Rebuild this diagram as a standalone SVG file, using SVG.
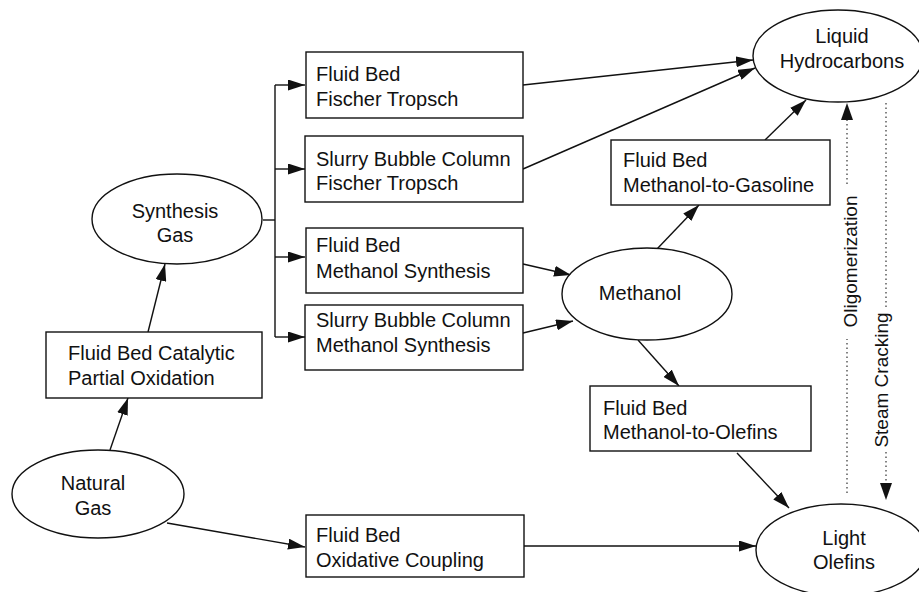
<svg xmlns="http://www.w3.org/2000/svg" width="919" height="592" viewBox="0 0 919 592">
<style>
.box{fill:#fff;stroke:#111;stroke-width:1.4}
.t{font-family:"Liberation Sans",Arial,sans-serif;font-size:20px;fill:#111}
.c{text-anchor:middle}
.r{font-family:"Liberation Sans",Arial,sans-serif;font-size:19px;fill:#111;text-anchor:middle}
.ln{fill:none;stroke:#111;stroke-width:1.4}
.dot{fill:none;stroke:#333;stroke-width:1.2;stroke-dasharray:1.5 3}
</style>
<defs>
<marker id="ah" markerUnits="userSpaceOnUse" markerWidth="18" markerHeight="11" refX="17" refY="5.5" orient="auto">
<path d="M0,0 L17,5.5 L0,11 z" fill="#111"/>
</marker>
</defs>
<rect width="919" height="592" fill="#fff"/>

<g id="connectors">
<line class="ln" x1="110" y1="450" x2="128" y2="398" marker-end="url(#ah)"/>
<line class="ln" x1="148" y1="332" x2="165" y2="264" marker-end="url(#ah)"/>
<line class="ln" x1="263" y1="220" x2="275" y2="220"/>
<line class="ln" x1="275" y1="85" x2="275" y2="337"/>
<line class="ln" x1="275" y1="85" x2="305" y2="85" marker-end="url(#ah)"/>
<line class="ln" x1="275" y1="169" x2="305" y2="169" marker-end="url(#ah)"/>
<line class="ln" x1="275" y1="257" x2="305" y2="257" marker-end="url(#ah)"/>
<line class="ln" x1="275" y1="337" x2="305" y2="337" marker-end="url(#ah)"/>
<line class="ln" x1="523" y1="85" x2="753" y2="60" marker-end="url(#ah)"/>
<line class="ln" x1="523" y1="169" x2="755" y2="68" marker-end="url(#ah)"/>
<line class="ln" x1="523" y1="264" x2="571" y2="275" marker-end="url(#ah)"/>
<line class="ln" x1="523" y1="333" x2="573" y2="321" marker-end="url(#ah)"/>
<line class="ln" x1="657" y1="249" x2="699" y2="205" marker-end="url(#ah)"/>
<line class="ln" x1="765" y1="140" x2="806" y2="100" marker-end="url(#ah)"/>
<line class="ln" x1="638" y1="340" x2="679" y2="386" marker-end="url(#ah)"/>
<line class="ln" x1="737" y1="453" x2="789" y2="508" marker-end="url(#ah)"/>
<line class="ln" x1="167" y1="523" x2="305" y2="547" marker-end="url(#ah)"/>
<line class="ln" x1="524" y1="546" x2="756" y2="546" marker-end="url(#ah)"/>
<line class="dot" x1="847" y1="493" x2="847" y2="339"/>
<line class="dot" x1="847" y1="184" x2="847" y2="118"/>
<path d="M841,120 L847,103 L853,120 z" fill="#111"/>
<line class="dot" x1="886" y1="103" x2="886" y2="308"/>
<line class="dot" x1="886" y1="452" x2="886" y2="484"/>
<path d="M880,483 L886,500 L892,483 z" fill="#111"/>
</g>

<g id="natural-gas">
<ellipse class="box" cx="98" cy="494" rx="86" ry="44"/>
<text class="t c" x="93" y="490">Natural</text>
<text class="t c" x="93" y="515">Gas</text>
</g>

<g id="partial-oxidation">
<rect class="box" x="46" y="332" width="216" height="66"/>
<text class="t" x="68" y="360">Fluid Bed Catalytic</text>
<text class="t" x="68" y="385">Partial Oxidation</text>
</g>

<g id="synthesis-gas">
<ellipse class="box" cx="177" cy="219" rx="85" ry="45"/>
<text class="t c" x="175" y="218">Synthesis</text>
<text class="t c" x="175" y="242">Gas</text>
</g>

<g id="fb-fischer-tropsch">
<rect class="box" x="306" y="52" width="217" height="66"/>
<text class="t" x="316" y="81">Fluid Bed</text>
<text class="t" x="316" y="106">Fischer Tropsch</text>
</g>

<g id="sbc-fischer-tropsch">
<rect class="box" x="305" y="136" width="218" height="66"/>
<text class="t" x="316" y="166">Slurry Bubble Column</text>
<text class="t" x="316" y="190">Fischer Tropsch</text>
</g>

<g id="fb-methanol-synthesis">
<rect class="box" x="306" y="228" width="217" height="65"/>
<text class="t" x="316" y="252">Fluid Bed</text>
<text class="t" x="316" y="278">Methanol Synthesis</text>
</g>

<g id="sbc-methanol-synthesis">
<rect class="box" x="305" y="305" width="218" height="65"/>
<text class="t" x="316" y="327">Slurry Bubble Column</text>
<text class="t" x="316" y="352">Methanol Synthesis</text>
</g>

<g id="oxidative-coupling">
<rect class="box" x="306" y="515" width="218" height="62"/>
<text class="t" x="316" y="542">Fluid Bed</text>
<text class="t" x="316" y="567">Oxidative Coupling</text>
</g>

<g id="methanol">
<ellipse class="box" cx="647" cy="294" rx="85" ry="46"/>
<text class="t c" x="640" y="300">Methanol</text>
</g>

<g id="mtg">
<rect class="box" x="611" y="140" width="219" height="65"/>
<text class="t" x="623" y="167">Fluid Bed</text>
<text class="t" x="623" y="192">Methanol-to-Gasoline</text>
</g>

<g id="mto">
<rect class="box" x="590" y="386" width="221" height="65"/>
<text class="t" x="603" y="415">Fluid Bed</text>
<text class="t" x="603" y="439">Methanol-to-Olefins</text>
</g>

<g id="liquid-hydrocarbons">
<ellipse class="box" cx="838" cy="56" rx="85" ry="46"/>
<text class="t c" x="842" y="43">Liquid</text>
<text class="t c" x="842" y="68">Hydrocarbons</text>
</g>

<g id="light-olefins">
<ellipse class="box" cx="841" cy="550" rx="85" ry="46"/>
<text class="t c" x="844" y="545">Light</text>
<text class="t c" x="844" y="569">Olefins</text>
</g>

<g id="labels">
<text class="r" transform="translate(857,261.5) rotate(-90)">Oligomerization</text>
<text class="r" transform="translate(888,380) rotate(-90)">Steam Cracking</text>
</g>
</svg>
